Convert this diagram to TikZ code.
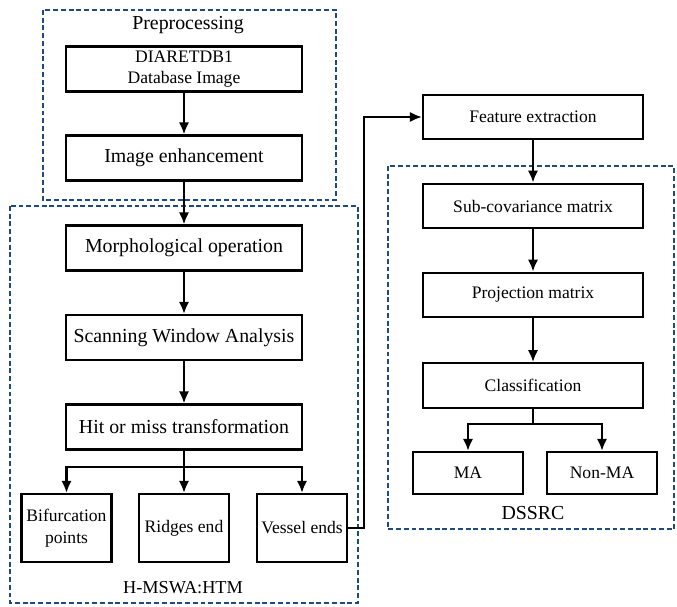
\documentclass[tikz,border=0pt]{standalone}
\usepackage{fontspec}
\setmainfont{Liberation Serif}
\usetikzlibrary{arrows.meta}
\definecolor{groupblue}{RGB}{30,75,125}
\begin{document}
\begin{tikzpicture}[x=0.02cm,y=-0.02cm,
    font=\fontsize{11.3}{12.5}\selectfont,
    box/.style={draw,line width=1.4pt,align=center,inner sep=1pt},
    sm/.style={font=\fontsize{10}{12.5}\selectfont},
    wide/.style={box,minimum width=4.72cm,minimum height=0.9cm},
    mid/.style={box,sm,minimum width=4.4cm,minimum height=0.89cm},
    small/.style={box,sm,minimum width=1.8cm,minimum height=1.36cm},
    leaf/.style={box,sm,minimum width=2.2cm,minimum height=0.84cm},
    group/.style={draw=groupblue,line width=1.1pt,dash pattern=on 2.8pt off 1.6pt},
    arrow/.style={line width=1.3pt,-{Latex[length=2.4mm,width=2.1mm]}}]
    \useasboundingbox (0,0) rectangle (677,606);
    \draw[group] (43,10) rectangle (336,200);
    \draw[group] (10,206) rectangle (358,603);
    \draw[group] (388,166) rectangle (674,529);
    \node (pre) at (188,25) {Preprocessing};
    \node[font=\fontsize{10.4}{12.5}\selectfont] (htm) at (183,588) {H-MSWA:HTM};
    \node (dssrc) at (533,513) {DSSRC};
    \node[wide,font=\fontsize{10}{11.5}\selectfont] (db) at (184,69) {DIARETDB1\\Database Image};
    \node[wide] (enh) at (184,158) {Image enhancement};
    \node[wide] (morph) at (184,248) {Morphological operation};
    \node[wide] (scan) at (184,337.5) {Scanning Window Analysis};
    \node[wide] (hit) at (184,427) {Hit or miss transformation};
    \node[small] (bif) at (66.5,528) {Bifurcation\\points};
    \node[small] (ridge) at (184,528) {Ridges end};
    \node[small] (vessel) at (302,528) {Vessel ends};
    \node[mid] (feat) at (533,117) {Feature extraction};
    \node[mid] (subcov) at (533,206) {Sub-covariance matrix};
    \node[mid] (proj) at (533,295) {Projection matrix};
    \node[mid] (cls) at (533,385.5) {Classification};
    \node[leaf] (ma) at (468,473) {MA};
    \node[leaf] (nonma) at (602,473) {Non-MA};
    \coordinate (split) at (184,467);
    \coordinate (fork) at (533,424);
    \draw[arrow] (db) -- (enh);
    \draw[arrow] (enh) -- (morph);
    \draw[arrow] (morph) -- (scan);
    \draw[arrow] (scan) -- (hit);
    \draw[line width=1.3pt] (hit) -- (split);
    \draw[arrow] (split) -| (bif);
    \draw[arrow] (split) -- (ridge);
    \draw[arrow] (split) -| (vessel);
    \draw[arrow] (vessel.east) -- ++(16,0) |- (feat.west);
    \draw[arrow] (feat) -- (subcov);
    \draw[arrow] (subcov) -- (proj);
    \draw[arrow] (proj) -- (cls);
    \draw[line width=1.3pt] (cls) -- (fork);
    \draw[arrow] (fork) -| (ma);
    \draw[arrow] (fork) -| (nonma);
\end{tikzpicture}
\end{document}
